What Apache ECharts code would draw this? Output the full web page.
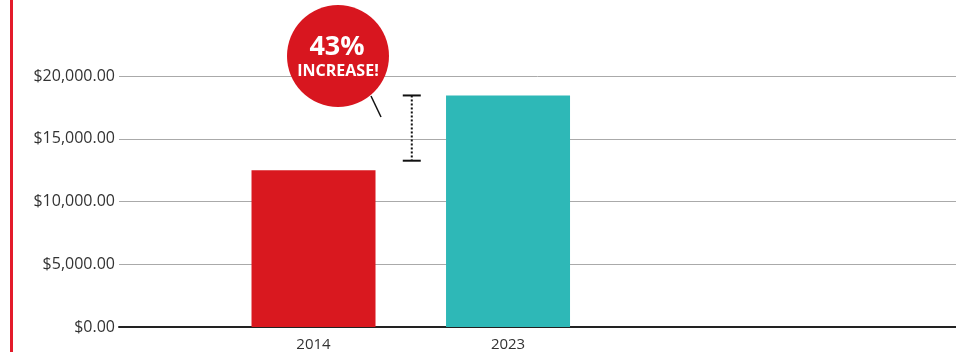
<!DOCTYPE html>
<html>
<head>
<meta charset="utf-8">
<script src="https://cdn.jsdelivr.net/npm/echarts@6/dist/echarts.min.js"></script>
<style>
html,body{margin:0;padding:0;background:#fff;}
#chart{width:956px;height:356px;}
</style>
</head>
<body>
<div id="chart"></div>
<script>
var categories = ['2014', '2023'];
var values = [12500, 18450];
var barColors = ['#d9181f', '#2eb8b7'];
var yTicks = [0, 5000, 10000, 15000, 20000];
var bracketValues = [18450, 13250];
var calloutTexts = ['43%', 'INCREASE!'];

var FONT = 'Open Sans';
var chart = echarts.init(document.getElementById('chart'));
chart.setOption({
  animation: false,
  grid: { left: 119, right: 0, top: 76, bottom: 29, containLabel: false },
  xAxis: {
    type: 'value',
    min: -1, max: 3.303, interval: 1,
    axisLine: { show: true, onZero: false, lineStyle: { color: '#222', width: 2 } },
    axisTick: { show: false },
    axisLabel: {
      color: '#333', fontSize: 15, fontFamily: FONT, margin: 10,
      showMinLabel: false, showMaxLabel: false,
      formatter: function (v) { return (Number.isInteger(v) && categories[v]) ? categories[v] : ''; }
    },
    splitLine: { show: false }
  },
  yAxis: {
    type: 'value',
    min: yTicks[0], max: yTicks[yTicks.length - 1], interval: yTicks[1] - yTicks[0],
    axisLine: { show: false },
    axisTick: { show: false },
    axisLabel: {
      color: '#333', fontSize: 16, fontFamily: FONT, margin: 4,
      formatter: function (v) { return '$' + v.toLocaleString('en-US', { minimumFractionDigits: 2, maximumFractionDigits: 2 }); }
    },
    splitLine: { show: true, lineStyle: { color: '#aaa', width: 1 } }
  },
  series: [{
    type: 'bar',
    data: values.map(function (v, i) { return { value: [i, v], itemStyle: { color: barColors[i] } }; }),
    barWidth: 124
  }]
});

var xMid = (chart.convertToPixel({ gridIndex: 0 }, [0, 0])[0] + chart.convertToPixel({ gridIndex: 0 }, [1, 0])[0]) / 2 + 1;
var yTop = chart.convertToPixel({ gridIndex: 0 }, [0, bracketValues[0]])[1];
var yBot = chart.convertToPixel({ gridIndex: 0 }, [0, bracketValues[1]])[1];

chart.setOption({
  graphic: [
    { type: 'rect', shape: { x: 10, y: 0, width: 3, height: 352 }, style: { fill: '#e31b2a' } },
    { type: 'line', shape: { x1: xMid, y1: yTop, x2: xMid, y2: yBot }, style: { stroke: '#111', lineWidth: 2, lineDash: [2, 2] } },
    { type: 'line', shape: { x1: xMid - 9, y1: yTop, x2: xMid + 9, y2: yTop }, style: { stroke: '#111', lineWidth: 2 } },
    { type: 'line', shape: { x1: xMid - 9, y1: yBot, x2: xMid + 9, y2: yBot }, style: { stroke: '#111', lineWidth: 2 } },
    { type: 'line', shape: { x1: 371, y1: 96, x2: 381, y2: 117 }, style: { stroke: '#111', lineWidth: 1.5 } },
    { type: 'circle', shape: { cx: 338, cy: 56, r: 51 }, style: { fill: '#d8161f' } },
    { type: 'text', x: 337, y: 47, style: { text: calloutTexts[0], fill: '#fff', font: 'bold 27px "Open Sans"', align: 'center', verticalAlign: 'middle' } },
    { type: 'text', x: 338, y: 71, style: { text: calloutTexts[1], fill: '#fff', font: 'bold 16px "Open Sans"', align: 'center', verticalAlign: 'middle' } }
  ]
});
</script>
</body>
</html>
